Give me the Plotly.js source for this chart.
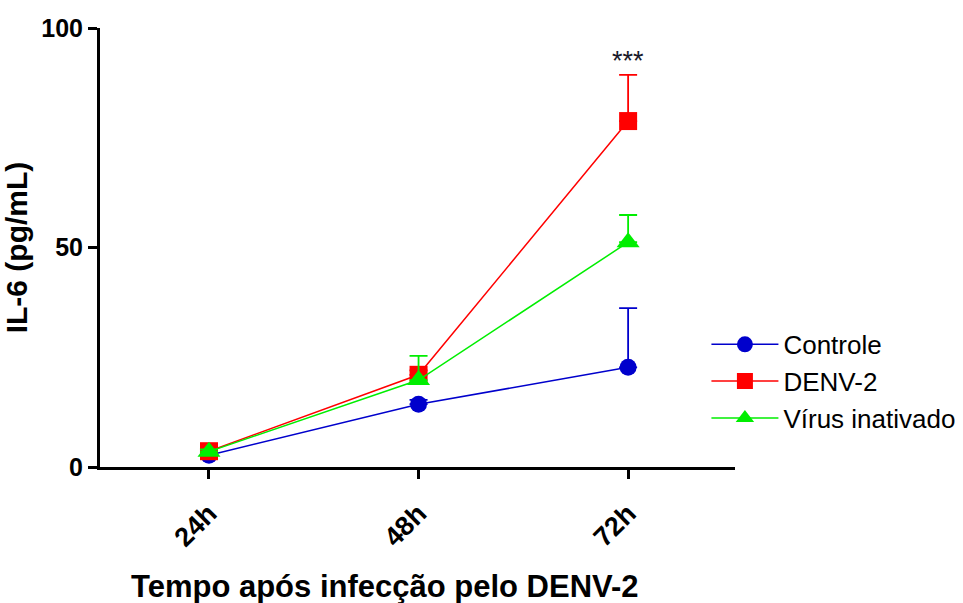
<!DOCTYPE html>
<html><head><meta charset="utf-8">
<script src="https://cdn.plot.ly/plotly-3.0.1.min.js"></script>
<style>body{margin:0;background:#fff}#c{width:963px;height:603px}</style>
</head><body><div id="c"></div>
<script>
const categories = ['24h','48h','72h'];
const controle = [2.7, 14.3, 22.7];
const controleErr = [0.5, 1.0, 13.5];
const denv2 = [3.6, 21.0, 78.8];
const denv2Err = [0.5, 1.0, 10.5];
const virusInat = [3.5, 19.8, 51.2];
const virusInatErr = [0.5, 5.5, 6.2];
const seriesNames = ['Controle', 'DENV-2', 'Vírus inativado'];
const xIdx = categories.map((_, i) => i);

function tr(name, y, err, color, symbol, size) {
  return {
    x: xIdx, y: y, name: name, type: 'scatter', mode: 'lines+markers',
    line: {color: color, width: 1.5},
    marker: {color: color, symbol: symbol, size: size},
    error_y: {type: 'data', symmetric: false, array: err, arrayminus: err.map(() => 0),
      color: color, thickness: 1.8, width: 9}
  };
}
const data = [
  tr(seriesNames[0], controle, controleErr, '#0000CC', 'circle', 17),
  tr(seriesNames[1], denv2, denv2Err, '#FF0000', 'square', 18),
  tr(seriesNames[2], virusInat, virusInatErr, '#00EE00', 'triangle-up', 20)
];
const layout = {
  width: 963, height: 603,
  margin: {l: 100, r: 228, t: 28, b: 136, autoexpand: false},
  paper_bgcolor: '#fff', plot_bgcolor: '#fff',
  font: {family: 'Liberation Sans, Arial, sans-serif', color: '#000'},
  showlegend: true,
  legend: {x: 0.955, y: 0.195, xanchor: 'left', yanchor: 'middle', font: {size: 26},
    tracegroupgap: 0, itemwidth: 67, traceorder: 'normal'},
  xaxis: {
    range: [-0.52, 2.51], tickvals: xIdx, ticktext: categories, automargin: false,
    showgrid: false, zeroline: false, showline: true, linecolor: '#000', linewidth: 3,
    ticks: 'outside', ticklen: 9, tickwidth: 3, tickcolor: '#000',
    tickangle: -45, tickfont: {size: 27, weight: 'bold'}, ticklabelstandoff: 8
  },
  yaxis: {
    range: [0, 100], tickvals: [0, 50, 100], automargin: false,
    showgrid: false, zeroline: false, showline: true, linecolor: '#000', linewidth: 3,
    ticks: 'outside', ticklen: 9, tickwidth: 3, tickcolor: '#000',
    tickfont: {size: 25, weight: 'bold'},
    title: {text: '<b>IL-6 (pg/mL)</b>', font: {size: 30}, standoff: 10}
  },
  annotations: [
    {x: 2, y: denv2[2] + denv2Err[2], xref: 'x', yref: 'y', text: '***',
     showarrow: false, yanchor: 'bottom', yshift: -3, font: {size: 27, color: '#1a1a2a'}},
    {x: 0.449, y: -0.273, xref: 'paper', yref: 'paper', text: '<b>Tempo após infecção pelo DENV-2</b>',
     showarrow: false, xanchor: 'center', yanchor: 'middle', font: {size: 31}}
  ]
};
Plotly.newPlot('c', data, layout, {displayModeBar: false, staticPlot: true});
</script></body></html>
